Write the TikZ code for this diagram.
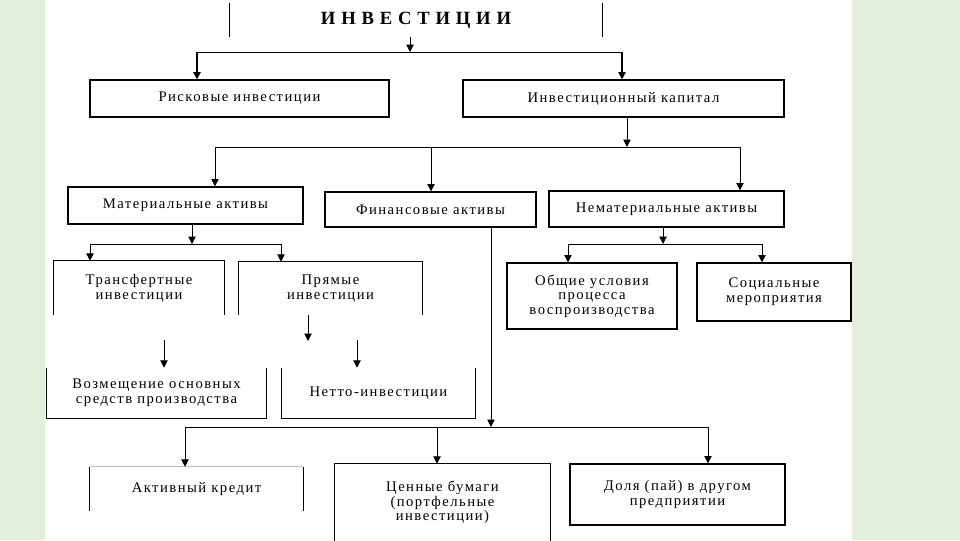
\documentclass[tikz,border=0pt]{standalone}
\usepackage{fontspec}
\setmainfont{Liberation Serif}
\newfontfamily\boxfont[LetterSpace=10]{Liberation Serif}
\newfontfamily\titlefont[LetterSpace=6]{Liberation Serif}
\usetikzlibrary{arrows.meta}
\definecolor{bggreen}{RGB}{226,239,218}
\newcommand\bx[7][]{\node[boxn,#1, minimum width={(#4-#2)*0.75pt}, minimum height={(#5-#3)*0.75pt}] (#6) at ({(#2+#4)/2},{(#3+#5)/2}) {#7};}
\begin{document}
\begin{tikzpicture}[x=0.75pt,y=-0.75pt,
  boxn/.style={inner sep=0pt, align=center, font=\boxfont\fontsize{11}{11}\selectfont},
  full/.style={draw=black, line width=1pt},
  edge/.style={draw=black, line width=1pt},
  line/.style={draw=black, line width=0.75pt},
  conn/.style={draw=black, line width=0.75pt, -{Triangle[length=5.5pt,width=5.5pt]}},
  thickconn/.style={draw=black, line width=1.5pt, -{Triangle[length=5.5pt,width=5.5pt]}}]
\fill[bggreen] (0,0) rectangle (960,540);
\fill[white] (45,0) rectangle (852,540);
\useasboundingbox (0,0) rectangle (960,540);

% boxes: [style]{x1}{y1}{x2}{y2}{name}{text}
\bx[font=\titlefont\bfseries\fontsize{14}{16}\selectfont]{230}{3}{602}{37}{inv}{И Н В Е С Т И Ц И И}
\bx[full]{90}{80}{389}{117}{risk}{Рисковые инвестиции}
\bx[full]{463}{80}{784}{117}{cap}{Инвестиционный капитал}
\bx[full]{68}{187}{303}{224}{mat}{Материальные активы}
\bx[full]{325}{192}{536}{227}{fin}{Финансовые активы}
\bx[full]{549}{191}{784}{227}{nem}{Нематериальные активы}
\bx{54}{261}{224}{315}{trans}{Трансфертные\\инвестиции}
\bx{239}{262}{422}{315}{pr}{Прямые\\инвестиции}
\bx[full]{507}{263}{677}{329}{gen}{Общие условия\\процесса\\воспроизводства}
\bx[full]{697}{263}{851}{321}{soc}{Социальные\\мероприятия}
\bx{47}{368}{266}{418}{voz}{Возмещение основных\\средств производства}
\bx{282}{368}{475}{418}{net}{Нетто-инвестиции}
\bx{90}{467}{303}{511}{act}{Активный кредит}
\bx{335}{464}{550}{541}{sec}{Ценные бумаги\\(портфельные\\инвестиции)}
\bx[full]{570}{464}{785}{525}{dol}{Доля (пай) в другом\\предприятии}

% partial borders
\draw[edge] (inv.north west) -- (inv.south west);
\draw[edge] (inv.north east) -- (inv.south east);
\draw[edge] (trans.south west) -- (trans.north west) -- (trans.north east) -- (trans.south east);
\draw[edge] (pr.south west) -- (pr.north west) -- (pr.north east) -- (pr.south east);
\draw[edge] (voz.north west) -- (voz.south west) -- (voz.south east) -- (voz.north east);
\draw[edge] (net.north west) -- (net.south west) -- (net.south east) -- (net.north east);
\draw[edge] (act.north west) -- (act.south west);
\draw[edge] (act.north east) -- (act.south east);
\draw[draw=black!25, line width=0.8pt] (act.north west) -- (act.north east);
\draw[edge] (sec.south west) -- (sec.north west) -- (sec.north east) -- (sec.south east);

% junction coordinates
\coordinate (j1) at (410,52);  \coordinate (j1a) at (197,52);  \coordinate (j1b) at (622,52);
\coordinate (j2) at (627,147); \coordinate (j2a) at (215,147); \coordinate (j2b) at (431,147); \coordinate (j2c) at (740,147);
\coordinate (j3) at (192,244); \coordinate (j3a) at (90,244);  \coordinate (j3b) at (281,244);
\coordinate (j4) at (663,244); \coordinate (j4a) at (568,244); \coordinate (j4b) at (762,244);
\coordinate (j5) at (308,341); \coordinate (j5a) at (164,340); \coordinate (j5b) at (357,340);
\coordinate (j6) at (491,427); \coordinate (j6a) at (185,427); \coordinate (j6b) at (437,427); \coordinate (j6c) at (708,427);

% level 1
\draw[conn] (inv.south -| j1) -- (j1);
\draw[line] (j1a) -- (j1b);
\draw[thickconn] (j1a) -- (j1a |- risk.north);
\draw[thickconn] (j1b) -- (j1b |- cap.north);
% level 2
\draw[conn] (cap.south -| j2) -- (j2);
\draw[line] (j2a) -- (j2c);
\draw[conn] (j2a) -- (j2a |- mat.north);
\draw[conn] (j2b) -- (j2b |- fin.north);
\draw[conn] (j2c) -- (j2c |- nem.north);
% material
\draw[conn] (mat.south -| j3) -- (j3);
\draw[line] (j3a) -- (j3b);
\draw[conn] (j3a) -- (j3a |- trans.north);
\draw[conn] (j3b) -- (j3b |- pr.north);
% non-material
\draw[conn] (nem.south -| j4) -- (j4);
\draw[line] (j4a) -- (j4b);
\draw[conn] (j4a) -- (j4a |- gen.north);
\draw[conn] (j4b) -- (j4b |- soc.north);
% direct investments
\draw[conn] (pr.south -| j5) -- (j5);
\draw[conn] (j5a) -- (j5a |- voz.north);
\draw[conn] (j5b) -- (j5b |- net.north);
% financial
\draw[conn] (fin.south -| j6) -- (j6);
\draw[line] (j6a) -- (j6c);
\draw[conn] (j6a) -- (j6a |- act.north);
\draw[conn] (j6b) -- (j6b |- sec.north);
\draw[conn] (j6c) -- (j6c |- dol.north);
\end{tikzpicture}
\end{document}
